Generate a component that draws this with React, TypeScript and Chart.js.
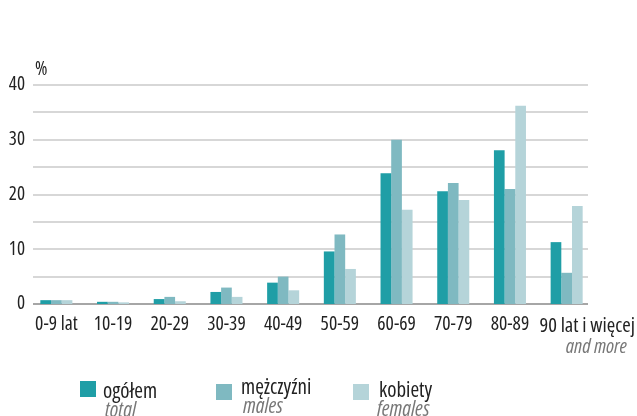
import { useEffect, useRef } from 'react';
import { Chart, registerables } from 'chart.js';
Chart.register(...registerables);

const categories = ['0-9 lat', '10-19', '20-29', '30-39', '40-49', '50-59', '60-69', '70-79', '80-89', '90 lat i więcej'];
const totalValues = [0.7, 0.4, 0.9, 2.2, 3.9, 9.6, 23.9, 20.6, 28.1, 11.3];
const maleValues = [0.7, 0.4, 1.3, 3.0, 5.0, 12.7, 30.0, 22.1, 21.0, 5.7];
const femaleValues = [0.7, 0.3, 0.5, 1.3, 2.5, 6.4, 17.2, 19.0, 36.2, 17.9];
const seriesNames = ['ogółem', 'mężczyźni', 'kobiety'];
const seriesNamesEn = ['total', 'males', 'females'];
const lastLabelEn = 'and more';
const unitLabel = '%';
const colors = ['#1f9ea6', '#7fb9c1', '#b5d4d9'];

const FAMILY = '"Open Sans", "Noto Sans", sans-serif';
const STRETCH = 'condensed';

const extrasPlugin = {
  id: 'extras',
  beforeDatasetsDraw(chart: any) {
    const ctx = chart.ctx;
    const y = chart.scales.y;
    ctx.save();
    for (let v = y.min; v <= y.max; v += 5) {
      const py = Math.round(y.getPixelForValue(v));
      ctx.beginPath();
      ctx.strokeStyle = v === 0 ? '#a6a6a6' : '#cacaca';
      ctx.lineWidth = v === 0 ? 2 : 1.5;
      ctx.moveTo(33, py);
      ctx.lineTo(588, py);
      ctx.stroke();
    }
    ctx.restore();
  },
  afterDraw(chart: any) {
    const ctx = chart.ctx;
    ctx.save();
    ctx.textBaseline = 'alphabetic';
    ctx.fillStyle = '#222';
    ctx.font = `${STRETCH} 19px ${FAMILY}`;
    ctx.textAlign = 'left';
    ctx.fillText(unitLabel, 35, 75);

    // last category label, right-aligned near the page edge
    ctx.font = `${STRETCH} 20.5px ${FAMILY}`;
    ctx.textAlign = 'right';
    ctx.fillText(categories[categories.length - 1], 635, 332);
    ctx.fillStyle = '#777';
    ctx.font = `italic ${STRETCH} 20px ${FAMILY}`;
    ctx.fillText(lastLabelEn, 627, 353);

    const items = [
      { x: 80, y: 381, tx: 103, ty: 398, sx: 105 },
      { x: 216, y: 384, tx: 241, ty: 394, sx: 243 },
      { x: 353, y: 384, tx: 379, ty: 397, sx: 377 },
    ];
    items.forEach((s, i) => {
      ctx.fillStyle = colors[i];
      ctx.fillRect(s.x, s.y, 16, 16);
      ctx.textAlign = 'left';
      ctx.fillStyle = '#222';
      ctx.font = `${STRETCH} 21px ${FAMILY}`;
      ctx.fillText(seriesNames[i], s.tx, s.ty);
      ctx.fillStyle = '#777';
      ctx.font = `italic ${STRETCH} 21px ${FAMILY}`;
      ctx.fillText(seriesNamesEn[i], s.sx, s.ty + 19);
    });
    ctx.restore();
  },
};

export default function App() {
  const ref = useRef<HTMLCanvasElement | null>(null);
  useEffect(() => {
    if (!ref.current) return;
    const chart = new Chart(ref.current, {
      type: 'bar',
      data: {
        labels: categories,
        datasets: [
          { label: seriesNames[0], data: totalValues, backgroundColor: colors[0] },
          { label: seriesNames[1], data: maleValues, backgroundColor: colors[1] },
          { label: seriesNames[2], data: femaleValues, backgroundColor: colors[2] },
        ],
      },
      options: {
        animation: false,
        responsive: true,
        maintainAspectRatio: false,
        layout: { padding: { left: 0, right: 42, top: 85, bottom: 0 } },
        datasets: { bar: { categoryPercentage: 0.565, barPercentage: 1 } } as any,
        plugins: { legend: { display: false }, tooltip: { enabled: false }, title: { display: false } },
        scales: {
          x: {
            grid: { display: false, drawTicks: false },
            border: { display: false },
            ticks: {
              color: '#222',
              font: { family: FAMILY, size: 19.5, weight: STRETCH as any },
              padding: 9,
              maxRotation: 0,
              autoSkip: false,
              callback: (_v: any, i: number) => (i === categories.length - 1 ? '' : categories[i]),
            },
            afterFit: (s: any) => { s.height = 112; },
          },
          y: {
            min: 0,
            max: 40,
            grid: { display: false, drawTicks: false },
            border: { display: false },
            ticks: { stepSize: 10, color: '#222', padding: 3, font: { family: FAMILY, size: 19, weight: STRETCH as any } },
            afterFit: (s: any) => { s.width = 28; },
          },
        },
      },
      plugins: [extrasPlugin],
    });
    return () => chart.destroy();
  }, []);
  return (
    <div style={{ position: 'absolute', left: 0, top: 0, width: 637, height: 416 }}>
      <canvas ref={ref} />
    </div>
  );
}
